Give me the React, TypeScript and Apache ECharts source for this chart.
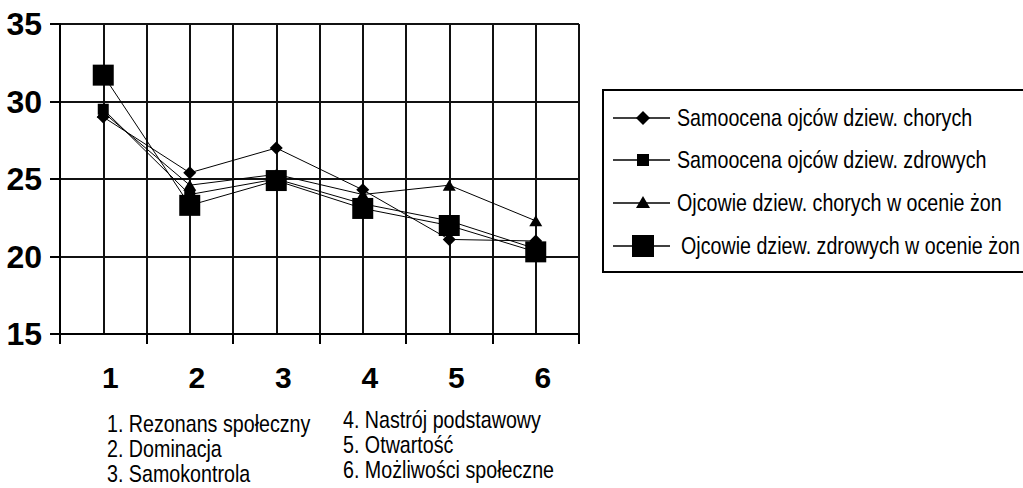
import React, { useEffect, useRef } from "react";
import * as echarts from "echarts";

const categories = ["1", "2", "3", "4", "5", "6"];
const yTicks = [15, 20, 25, 30, 35];
const seriesNames = [
  "Samoocena ojców dziew. chorych",
  "Samoocena ojców dziew. zdrowych",
  "Ojcowie dziew. chorych w ocenie żon",
  "Ojcowie dziew. zdrowych w ocenie żon",
];
const chorychSamoocena = [29.0, 25.4, 27.0, 24.3, 21.1, 21.0];
const zdrowychSamoocena = [29.5, 24.0, 25.0, 23.4, 22.3, 20.5];
const chorychZony = [29.3, 24.6, 25.3, 24.0, 24.6, 22.3];
const zdrowychZony = [31.7, 23.3, 24.9, 23.1, 22.0, 20.3];
const explanationsLeft = ["1. Rezonans społeczny", "2. Dominacja", "3. Samokontrola"];
const explanationsRight = ["4. Nastrój podstawowy", "5. Otwartość", "6. Możliwości społeczne"];

const SANS = "'Liberation Sans', Arial, sans-serif";
const NARROW_SCALE = 0.82;

export default function App() {
  const ref = useRef<HTMLDivElement>(null);
  useEffect(() => {
    if (!ref.current) return;
    const chart = echarts.init(ref.current, null, { renderer: "svg" });
    const values = [chorychSamoocena, zdrowychSamoocena, chorychZony, zdrowychZony];
    const symbols: any[] = ["diamond", "rect", "triangle", "rect"];
    const sizes: any[] = [[13, 13], 11, [13, 11], 21];

    const legendY = [118, 160, 203, 246];
    const mx = 643;
    const legendEls: any[] = [
      {
        type: "rect",
        shape: { x: 603, y: 90, width: 440, height: 182 },
        style: { fill: "none", stroke: "#000", lineWidth: 2 },
      },
    ];
    legendY.forEach((y, i) => {
      legendEls.push({
        type: "line",
        shape: { x1: 613, y1: y, x2: 670, y2: y },
        style: { stroke: "#000", lineWidth: 1.5 },
      });
      if (i === 0) {
        legendEls.push({
          type: "polygon",
          shape: { points: [[mx, y - 7], [mx + 7, y], [mx, y + 7], [mx - 7, y]] },
          style: { fill: "#000" },
        });
      } else if (i === 1) {
        legendEls.push({ type: "rect", shape: { x: mx - 6, y: y - 6, width: 12, height: 12 }, style: { fill: "#000" } });
      } else if (i === 2) {
        legendEls.push({
          type: "polygon",
          shape: { points: [[mx, y - 7], [mx + 7, y + 5], [mx - 7, y + 5]] },
          style: { fill: "#000" },
        });
      } else {
        legendEls.push({ type: "rect", shape: { x: mx - 11, y: y - 11, width: 22, height: 22 }, style: { fill: "#000" } });
      }
      legendEls.push({
        type: "text",
        x: i === 3 ? 681 : 677,
        y,
        scaleX: NARROW_SCALE,
        style: {
          text: seriesNames[i],
          fontFamily: SANS,
          fontSize: 24,
          fill: "#000",
          verticalAlign: "middle",
          align: "left",
        },
      });
    });

    const explEls: any[] = [];
    explanationsLeft.forEach((t, i) => {
      explEls.push({
        type: "text",
        x: 107,
        y: 424 + i * 25,
        scaleX: NARROW_SCALE,
        style: { text: t, fontFamily: SANS, fontSize: 24, fill: "#000", verticalAlign: "middle" },
      });
    });
    explanationsRight.forEach((t, i) => {
      explEls.push({
        type: "text",
        x: 343,
        y: 420 + i * 25,
        scaleX: NARROW_SCALE,
        style: { text: t, fontFamily: SANS, fontSize: 24, fill: "#000", verticalAlign: "middle" },
      });
    });

    chart.setOption({
      animation: false,
      backgroundColor: "#fff",
      grid: { left: 60, top: 24, width: 519, height: 310, containLabel: false },
      xAxis: [
        {
          type: "category",
          data: categories,
          boundaryGap: true,
          position: "bottom",
          axisLine: { show: true, lineStyle: { color: "#000", width: 2 } },
          axisTick: { show: true, length: 10, lineStyle: { color: "#000", width: 2 } },
          axisLabel: {
            color: "#000",
            fontFamily: SANS,
            fontWeight: "bold",
            fontSize: 30,
            margin: 28,
            padding: [0, 0, 0, 14],
          },
          splitLine: { show: false },
        },
        {
          type: "value",
          min: 0.5,
          max: 6.5,
          interval: 0.5,
          position: "bottom",
          axisLine: { show: false },
          axisTick: { show: false },
          axisLabel: { show: false },
          splitLine: { show: true, lineStyle: { color: "#111", width: 2 } },
        },
      ],
      yAxis: {
        type: "value",
        min: yTicks[0],
        max: yTicks[yTicks.length - 1],
        interval: 5,
        axisLine: { show: true, lineStyle: { color: "#000", width: 2 } },
        axisTick: { show: true, length: 10, lineStyle: { color: "#000", width: 2 } },
        axisLabel: {
          color: "#000",
          fontFamily: SANS,
          fontWeight: "bold",
          fontSize: 32,
          margin: 18,
        },
        splitLine: { show: true, lineStyle: { color: "#111", width: 2 } },
      },
      series: values.map((v, i) => ({
        name: seriesNames[i],
        type: "line",
        xAxisIndex: 0,
        data: v,
        symbol: symbols[i],
        symbolSize: sizes[i],
        showAllSymbol: true,
        lineStyle: { color: "#000", width: 1 },
        itemStyle: { color: "#000" },
        z: 3 + i,
      })),
      graphic: [...legendEls, ...explEls],
    });
    return () => chart.dispose();
  }, []);
  return (
    <div
      ref={ref}
      style={{ position: "fixed", left: 0, top: 0, width: 1023, height: 488, background: "#fff" }}
    />
  );
}
